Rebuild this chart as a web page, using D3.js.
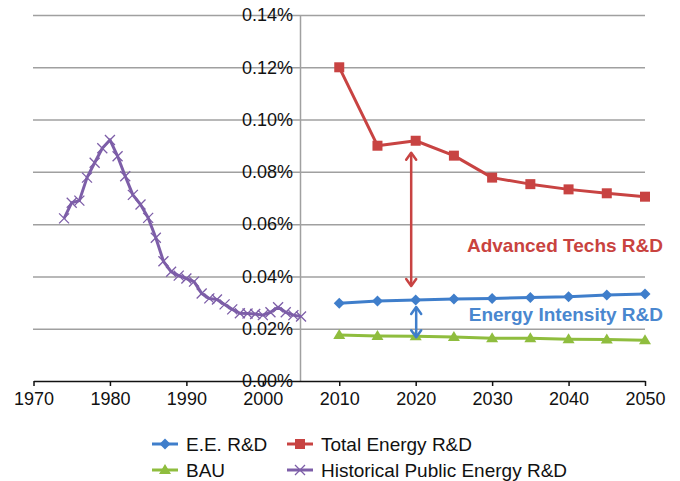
<!DOCTYPE html>
<html><head><meta charset="utf-8">
<script src="https://cdn.jsdelivr.net/npm/d3@7/dist/d3.min.js"></script>
<style>
html,body{margin:0;padding:0;background:#fff;}
svg{display:block;font-family:"Liberation Sans",Arial,Helvetica,sans-serif;}
</style></head>
<body><svg id="c" width="680" height="481"></svg>
<script>
const projYears = [2010,2015,2020,2025,2030,2035,2040,2045,2050];
const eeRD    = [0.0297,0.0306,0.0310,0.0314,0.0316,0.0319,0.0322,0.0329,0.0333];
const totalRD = [0.1200,0.0900,0.0919,0.0862,0.0778,0.0753,0.0733,0.0718,0.0705];
const bau     = [0.0176,0.0172,0.0171,0.0168,0.0164,0.0164,0.0160,0.0159,0.0156];
const histYears = d3.range(1974,2006);
const histRD = [0.0622,0.0682,0.0690,0.0778,0.0835,0.0890,0.0922,0.0860,0.0783,0.0712,
                0.0675,0.0624,0.0548,0.0458,0.0418,0.0403,0.0392,0.0380,0.0335,0.0316,
                0.0312,0.0293,0.0274,0.0259,0.0258,0.0256,0.0252,0.0263,0.0282,0.0263,
                0.0252,0.0247];
const xTicks = [1970,1980,1990,2000,2010,2020,2030,2040,2050];
const yTicks = [0,0.02,0.04,0.06,0.08,0.10,0.12,0.14];
const yTickLabels = ["0.00%","0.02%","0.04%","0.06%","0.08%","0.10%","0.12%","0.14%"];
const seriesNames = ["E.E. R&D","Total Energy R&D","BAU","Historical Public Energy R&D"];

const C = {blue:"#3f7ecb", red:"#c84342", green:"#8fbd3e", purple:"#7d5ea8", grid:"#a0a0a0"};
const svg = d3.select("#c");
const x = d3.scaleLinear().domain([1970,2050]).range([33.5,645]);
const y = d3.scaleLinear().domain([0,0.14]).range([381,15]);

// gridlines
const grid = svg.append("g").attr("transform","translate(33,0)")
  .call(d3.axisRight(y).tickValues(yTicks.slice(1)).tickSize(612).tickFormat(""));
grid.select(".domain").remove();
grid.selectAll("line").attr("stroke",C.grid).attr("stroke-width",1.5);

// y axis labels at x=300
const ya = svg.append("g").attr("transform","translate(300,0)")
  .call(d3.axisLeft(y).tickValues(yTicks).tickSize(0).tickPadding(7)
    .tickFormat((d,i)=>yTickLabels[i]));
ya.select(".domain").attr("stroke",C.grid).attr("stroke-width",1.5);
ya.selectAll("text").attr("font-size",18).attr("fill","#111")
  .attr("font-family","'Liberation Sans',Arial,sans-serif");

// x axis
const xa = svg.append("g").attr("transform","translate(0,381)")
  .call(d3.axisBottom(x).tickValues(xTicks).tickSize(5).tickSizeOuter(0).tickPadding(6).tickFormat(d3.format("d")));
xa.select(".domain").attr("stroke","#111").attr("stroke-width",1.5);
xa.selectAll("line").attr("stroke","#111").attr("stroke-width",1.5);
xa.selectAll("text").attr("font-size",18).attr("fill","#111")
  .attr("font-family","'Liberation Sans',Arial,sans-serif");

const line = d3.line().x(d=>x(d[0])).y(d=>y(d[1]));
function marker(g, type, col, cx, cy){
  if(type==="square"){
    g.append("rect").attr("x",cx-5).attr("y",cy-5).attr("width",10).attr("height",10).attr("fill",col);
  } else if(type==="diamond"){
    g.append("path").attr("d",`M${cx},${cy-5.5}L${cx+5.5},${cy}L${cx},${cy+5.5}L${cx-5.5},${cy}Z`).attr("fill",col);
  } else if(type==="triangle"){
    g.append("path").attr("d",`M${cx},${cy-6}L${cx+6},${cy+4}L${cx-6},${cy+4}Z`).attr("fill",col);
  } else if(type==="x"){
    g.append("path").attr("d",`M${cx-5},${cy-5}L${cx+5},${cy+5}M${cx-5},${cy+5}L${cx+5},${cy-5}`)
      .attr("stroke",col).attr("stroke-width",1.3).attr("fill","none");
  }
}
function series(xs, ys, col, type){
  const data = xs.map((d,i)=>[d,ys[i]]);
  const g = svg.append("g");
  g.append("path").datum(data).attr("d",line).attr("fill","none")
    .attr("stroke",col).attr("stroke-width",3).attr("stroke-linejoin","round");
  data.forEach(d=>marker(g,type,col,x(d[0]),y(d[1])));
}
series(histYears, histRD, C.purple, "x");
series(projYears, bau, C.green, "triangle");
series(projYears, eeRD, C.blue, "diamond");
series(projYears, totalRD, C.red, "square");

// annotations: double arrows
function dblArrow(ax, y1, y2, col){
  const g = svg.append("g").attr("stroke",col).attr("stroke-width",2.5).attr("fill","none")
    .attr("stroke-linecap","round").attr("stroke-linejoin","round");
  g.append("line").attr("x1",ax).attr("x2",ax).attr("y1",y1+1).attr("y2",y2-1);
  g.append("path").attr("d",`M${ax-5},${y1+7}L${ax},${y1}L${ax+5},${y1+7}`);
  g.append("path").attr("d",`M${ax-5},${y2-7}L${ax},${y2}L${ax+5},${y2-7}`);
}
const i2020 = projYears.indexOf(2020);
dblArrow(x(2020)-4.5, y(totalRD[i2020])+12, y(eeRD[i2020])-14, C.red);
dblArrow(x(2020)+0.5, y(eeRD[i2020])+7, y(bau[i2020])+1, C.blue);

svg.append("text").attr("x",663).attr("y",252).attr("text-anchor","end")
  .attr("font-size",19).attr("font-weight","bold").attr("fill","#c9433f").text("Advanced Techs R&D");
svg.append("text").attr("x",663).attr("y",321).attr("text-anchor","end")
  .attr("font-size",19).attr("font-weight","bold").attr("fill","#4a87cf").text("Energy Intensity R&D");

// legend
const legItems = [
  {name:seriesNames[0], col:C.blue, type:"diamond", lx:152, ly:444},
  {name:seriesNames[1], col:C.red, type:"square", lx:287, ly:444},
  {name:seriesNames[2], col:C.green, type:"triangle", lx:152, ly:470},
  {name:seriesNames[3], col:C.purple, type:"x", lx:287, ly:470}
];
legItems.forEach(it=>{
  const g = svg.append("g");
  g.append("line").attr("x1",it.lx).attr("x2",it.lx+26).attr("y1",it.ly).attr("y2",it.ly)
    .attr("stroke",it.col).attr("stroke-width",3);
  marker(g,it.type,it.col,it.lx+13,it.ly);
  g.append("text").attr("x",it.lx+34).attr("y",it.ly+6.5).attr("font-size",19).attr("fill","#111").text(it.name);
});
</script></body></html>
